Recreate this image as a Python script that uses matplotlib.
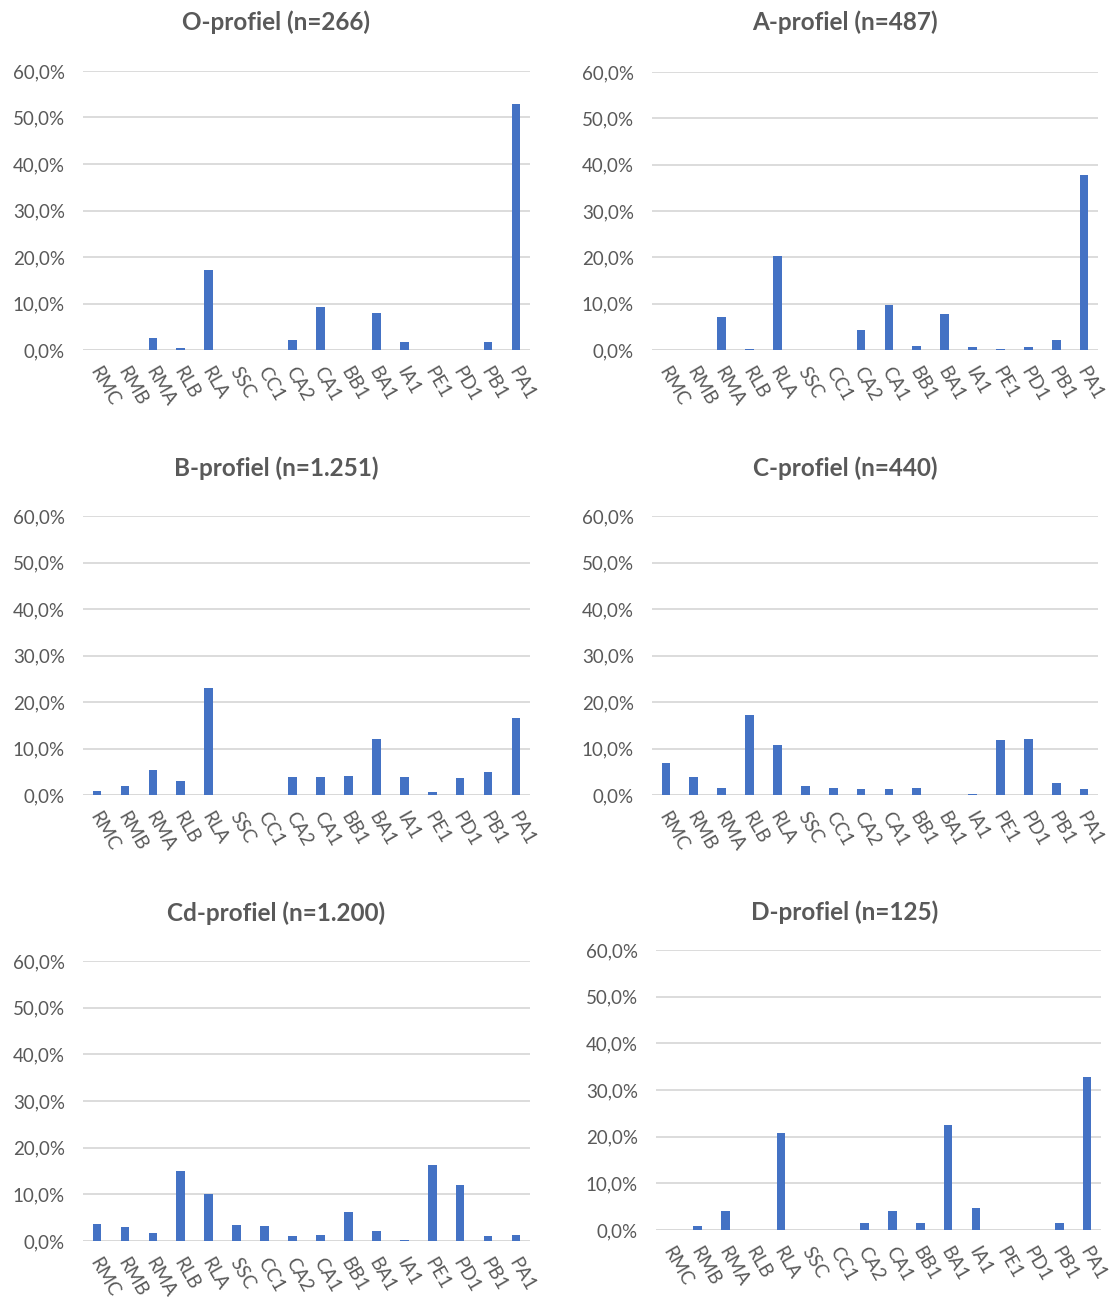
import matplotlib
matplotlib.use("Agg")
import matplotlib.pyplot as plt
from matplotlib.ticker import FuncFormatter
from matplotlib.transforms import ScaledTranslation

plt.rcParams["font.family"] = ["Lato", "DejaVu Sans"]

categories = ["RMC", "RMB", "RMA", "RLB", "RLA", "SSC", "CC1", "CA2",
              "CA1", "BB1", "BA1", "IA1", "PE1", "PD1", "PB1", "PA1"]

# percentages per profile
o_vals  = [0.0, 0.0, 2.5, 0.4, 17.2, 0.0, 0.0, 2.1, 9.3, 0.0, 7.9, 1.8, 0.0, 0.0, 1.8, 53.0]
a_vals  = [0.0, 0.0, 7.2, 0.2, 20.3, 0.0, 0.0, 4.3, 9.8, 0.8, 7.8, 0.6, 0.2, 0.6, 2.1, 37.8]
b_vals  = [0.8, 1.9, 5.4, 3.0, 23.0, 0.0, 0.0, 3.8, 3.8, 4.1, 12.1, 3.9, 0.7, 3.7, 5.0, 16.6]
c_vals  = [6.8, 3.8, 1.5, 17.1, 10.7, 1.9, 1.5, 1.2, 1.2, 1.5, 0.1, 0.3, 11.8, 12.1, 2.5, 1.2]
cd_vals = [3.7, 3.0, 1.7, 15.0, 10.1, 3.5, 3.2, 1.0, 1.2, 6.3, 2.2, 0.2, 16.2, 11.9, 1.1, 1.2]
d_vals  = [0.0, 0.8, 4.0, 0.0, 20.8, 0.0, 0.0, 1.6, 4.0, 1.6, 22.4, 4.8, 0.0, 0.0, 1.6, 32.8]

titles = ["O-profiel (n=266)", "A-profiel (n=487)", "B-profiel (n=1.251)",
          "C-profiel (n=440)", "Cd-profiel (n=1.200)", "D-profiel (n=125)"]
series = [o_vals, a_vals, b_vals, c_vals, cd_vals, d_vals]

# axes boxes in pixels: left, x-right, y of 60% line, y of 0% line
boxes = [(83, 530, 71, 350), (652, 1098, 72, 350),
         (83, 530, 516, 795), (652, 1098, 516, 795),
         (83, 530, 961, 1241), (656, 1101, 950, 1230)]
title_pos = [(276, 22), (845, 22), (276, 468), (845, 468), (276, 913), (845, 912)]

W, H = 1109, 1302
BLUE = "#4472C4"
GRID = "#D9D9D9"
TXT = "#595959"

fig = plt.figure(figsize=(W / 100, H / 100), dpi=100)

pct = FuncFormatter(lambda v, p: f"{v:.1f}%".replace(".", ","))
nudge = ScaledTranslation(-3 / 100, 0, fig.dpi_scale_trans)

for i, (vals, title) in enumerate(zip(series, titles)):
    x0, x1, ytop, ybot = boxes[i]
    ax = fig.add_axes([x0 / W, 1 - ybot / H, (x1 - x0) / W, (ybot - ytop) / H])
    xs = range(len(categories))
    ax.bar(xs, vals, width=0.31, color=BLUE, zorder=3)
    ax.set_xlim(-0.5, len(categories) - 0.5)
    ax.set_ylim(0, 60)
    ax.set_yticks([0, 10, 20, 30, 40, 50, 60])
    ax.yaxis.set_major_formatter(pct)
    ax.grid(axis="y", color=GRID, linewidth=1.3, zorder=0)
    ax.set_axisbelow(True)
    for s in ax.spines.values():
        s.set_visible(False)
    ax.axhline(0, color=GRID, linewidth=1.3, zorder=1)
    ax.tick_params(length=0, labelsize=13.5, labelcolor=TXT)
    ax.tick_params(axis="y", pad=13)
    ax.set_xticks(list(xs))
    ax.set_xticklabels(categories, rotation=-60, ha="left", va="center",
                       rotation_mode="anchor")
    ax.tick_params(axis="x", pad=13)
    for lab in ax.get_xticklabels():
        lab.set_transform(lab.get_transform() + nudge)
    tx, ty = title_pos[i]
    fig.text(tx / W, 1 - ty / H, title, ha="center", va="center",
             fontsize=17.5, fontweight="bold", color=TXT)

fig.savefig("out.png", dpi=100)
